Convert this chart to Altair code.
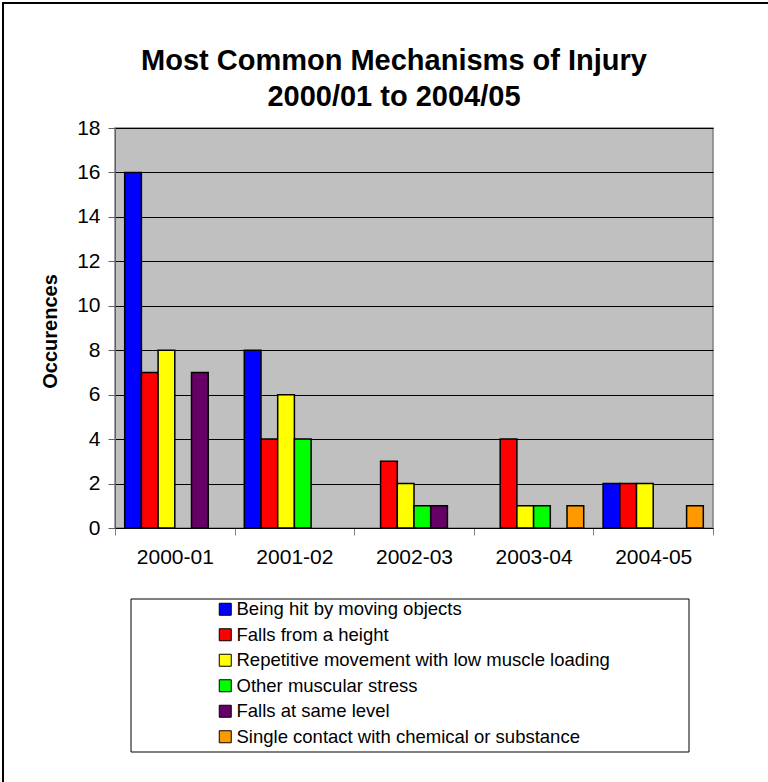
import altair as alt
import pandas as pd

years = ["2000-01", "2001-02", "2002-03", "2003-04", "2004-05"]
series = [
    "Being hit by moving objects",
    "Falls from a height",
    "Repetitive movement with low muscle loading",
    "Other muscular stress",
    "Falls at same level",
    "Single contact with chemical or substance",
]
colors = ["#0000FF", "#FF0000", "#FFFF00", "#00FF00", "#660066", "#FF9900"]

hit_by_objects = [16, 8, 0, 0, 2]
falls_height = [7, 4, 3, 4, 2]
repetitive = [8, 6, 2, 1, 2]
other_muscular = [0, 4, 1, 1, 0]
falls_same_level = [7, 0, 1, 0, 0]
chemical = [0, 0, 0, 1, 1]

values = [hit_by_objects, falls_height, repetitive, other_muscular, falls_same_level, chemical]
rows = []
for s, vals in zip(series, values):
    for y, v in zip(years, vals):
        rows.append({"year": y, "series": s, "value": v})
df = pd.DataFrame(rows)

FONT = "Liberation Sans"

bars = (
    alt.Chart(df)
    .transform_filter(alt.datum.value > 0)
    .mark_bar(stroke="#000000", strokeWidth=1.5)
    .encode(
        x=alt.X(
            "year:N",
            sort=years,
            scale=alt.Scale(paddingInner=0, paddingOuter=0),
            axis=alt.Axis(
                title=None,
                labelAngle=0,
                labelFontSize=21,
                labelFont=FONT,
                labelColor="#000000",
                tickBand="extent",
                tickSize=7,
                tickColor="#808080",
                domainColor="#000000",
                labelPadding=11,
            ),
        ),
        xOffset=alt.XOffset(
            "series:N",
            sort=series,
            scale=alt.Scale(domain=series, paddingInner=0, paddingOuter=0.58),
        ),
        y=alt.Y(
            "value:Q",
            scale=alt.Scale(domain=[0, 18]),
            axis=alt.Axis(
                title="Occurences",
                titleFont=FONT,
                titleFontSize=20,
                titleFontWeight="bold",
                titleColor="#000000",
                titleAngle=270,
                titleX=-65,
                titleY=203,
                titleAlign="center",
                titleBaseline="middle",
                values=list(range(0, 19, 2)),
                labelFontSize=21,
                labelFont=FONT,
                labelColor="#000000",
                labelPadding=8,
                tickSize=7,
                tickColor="#606060",
                domainColor="#606060",
                grid=True,
                gridColor="#000000",
                gridOpacity=1,
                gridWidth=1,
            ),
        ),
        color=alt.Color(
            "series:N",
            sort=series,
            scale=alt.Scale(domain=series, range=colors),
            legend=alt.Legend(
                title=None,
                orient="none",
                legendX=101,
                legendY=472,
                symbolType="square",
                symbolSize=144,
                symbolStrokeColor="#000000",
                symbolStrokeWidth=1,
                symbolOpacity=1,
                labelFont=FONT,
                labelFontSize=18.5,
                labelColor="#000000",
                labelLimit=0,
                labelOffset=2,
                rowPadding=6.5,
                padding=0,
            ),
        ),
    )
)

one = pd.DataFrame({"k": [0]})

legend_box = (
    alt.Chart(one)
    .mark_rect(fill="#FFFFFF", stroke="#000000", strokeWidth=1)
    .encode(x=alt.value(16), x2=alt.value(574), y=alt.value(471), y2=alt.value(624))
)

frame = (
    alt.Chart(one)
    .mark_rect(fill=None, filled=False, stroke="#000000", strokeWidth=2)
    .encode(x=alt.value(-112), x2=alt.value(700), y=alt.value(-125), y2=alt.value(700))
)

chart = (
    alt.layer(frame, legend_box, bars)
    .properties(
        width=598,
        height=400,
        autosize=alt.AutoSizeParams(type="none"),
        padding={"left": 115, "top": 128, "right": 55, "bottom": 254},
        background="#FFFFFF",
        title=alt.Title(
            text=["Most Common Mechanisms of Injury", "2000/01 to 2004/05"],
            font=FONT,
            fontSize=29,
            fontWeight="bold",
            color="#000000",
            lineHeight=36,
            anchor="middle",
            baseline="bottom",
            offset=0,
            dx=-20,
            dy=139,
        ),
    )
    .configure_view(fill="#C0C0C0", stroke="#808080", strokeWidth=1.5)
)

chart.save("out.html", embed_options={"renderer": "svg", "actions": False})
